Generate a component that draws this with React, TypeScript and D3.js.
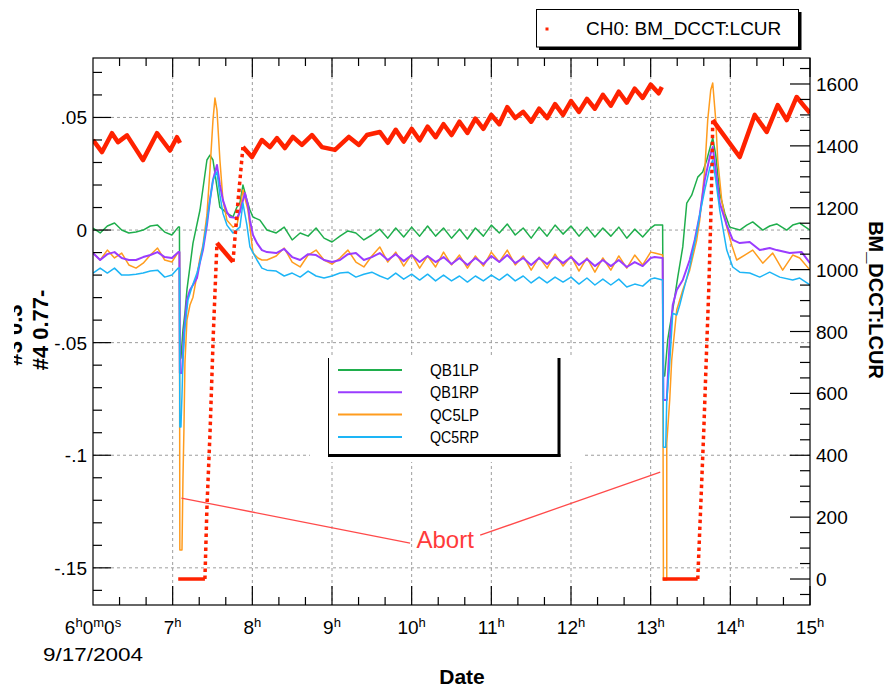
import React from 'react';
import * as d3 from 'd3';

const W = 895;
const H = 689;
const PL = 93, PR = 810, PT = 58, PB = 605;

// ---------- axes / labels ----------
const hourTicks = [7, 8, 9, 10, 11, 12, 13, 14, 15];
const leftTicks = [0.05, 0, -0.05, -0.1, -0.15];
const leftTickLabels = ['.05', '0', '-.05', '-.1', '-.15'];
const rightTicks = [0, 200, 400, 600, 800, 1000, 1200, 1400, 1600];
const seriesNames = ['QB1LP', 'QB1RP', 'QC5LP', 'QC5RP'];
const seriesColors = ['#1fae4c', '#9a3cff', '#ff9c1e', '#1db5f6'];
const redColor = '#ff2200';
const redName = 'CH0: BM_DCCT:LCUR';
const dateLabel = '9/17/2004';

// ---------- magnet series (left axis) ----------
const baseTimesA = [6.0, 6.09, 6.18, 6.27, 6.36, 6.45, 6.54, 6.63, 6.72, 6.81, 6.9, 6.99, 7.07];
const greenA = [0.0009, -0.0013, 0.0018, 0.0031, 0, -0.0013, -0.0009, 0, 0.0018, 0.0022, -0.0009, -0.0022, 0.0013];
const purpleA = [-0.0102, -0.0133, -0.0107, -0.0098, -0.0124, -0.0133, -0.0133, -0.012, -0.0111, -0.0098, -0.012, -0.0124, -0.0098];
const orangeA = [-0.0102, -0.0133, -0.0089, -0.0124, -0.0102, -0.0155, -0.0169, -0.0147, -0.0111, -0.008, -0.0133, -0.0142, -0.0098];
const cyanA = [-0.0191, -0.0169, -0.0191, -0.0169, -0.02, -0.02, -0.0196, -0.0191, -0.0182, -0.0178, -0.0209, -0.02, -0.0169];

const greenT1: [number, number][] = [
  [7.085, 0.0013], [7.09, -0.0577], [7.104, -0.0568], [7.129, -0.0444], [7.154, -0.0369], [7.179, -0.0266],
  [7.255, -0.0058], [7.343, 0.0089], [7.43, 0.0311], [7.468, 0.0333], [7.506, 0.0311], [7.556, 0.0191],
  [7.593, 0.0102], [7.681, 0.0075], [7.757, 0.0058], [7.807, 0.0102], [7.844, 0.012], [7.882, 0.02],
  [7.932, 0.0133], [7.97, 0.0089], [8.008, 0.0058], [8.095, 0.0044], [8.183, 0]];
const purpleT1: [number, number][] = [
  [7.085, -0.0098], [7.09, -0.0635], [7.117, -0.0635], [7.142, -0.0457], [7.179, -0.0311], [7.217, -0.0266],
  [7.255, -0.0244], [7.305, -0.0213], [7.343, -0.0142], [7.38, -0.0089], [7.43, 0.0022], [7.468, 0.0133],
  [7.506, 0.0222], [7.556, 0.0289], [7.593, 0.02], [7.631, 0.0133], [7.681, 0.008], [7.719, 0.0058],
  [7.807, 0.0053], [7.844, 0.008], [7.907, 0.0164], [7.945, 0.0111], [7.97, 0.0044], [8.008, -0.0022],
  [8.058, -0.0058], [8.12, -0.0089], [8.183, -0.0098]];
const orangeT1: [number, number][] = [
  [7.085, -0.0098], [7.09, -0.1421], [7.117, -0.1421], [7.129, -0.111], [7.142, -0.0875], [7.154, -0.0591],
  [7.179, -0.04], [7.217, -0.0333], [7.255, -0.0298], [7.305, -0.02], [7.343, -0.0124], [7.38, -0.0067],
  [7.43, 0.0067], [7.468, 0.0266], [7.506, 0.0488], [7.531, 0.0586], [7.556, 0.0533], [7.593, 0.0311],
  [7.631, 0.0133], [7.681, 0.0044], [7.757, 0.0013], [7.807, 0.0022], [7.844, 0.0089], [7.882, 0.0178],
  [7.945, 0.0089], [8.008, -0.0102], [8.07, -0.0124], [8.12, -0.0133], [8.183, -0.0133]];
const cyanT1: [number, number][] = [
  [7.085, -0.0169], [7.09, -0.0875], [7.104, -0.0875], [7.117, -0.0733], [7.129, -0.0577], [7.154, -0.0431],
  [7.192, -0.0311], [7.242, -0.0253], [7.305, -0.0191], [7.343, -0.0142], [7.38, -0.0075], [7.43, 0.0036],
  [7.468, 0.0133], [7.506, 0.0222], [7.556, 0.0258], [7.593, 0.0155], [7.631, 0.0075], [7.681, 0.0022],
  [7.757, -0.0013], [7.844, 0.0013], [7.882, 0.012], [7.932, 0.0022], [7.97, -0.0075], [8.058, -0.0133],
  [8.12, -0.0169], [8.183, -0.0178]];

const baseTimesB = [8.3, 8.4, 8.5, 8.6, 8.7, 8.8, 8.9, 9.0, 9.1, 9.2, 9.3, 9.4, 9.5, 9.6, 9.7, 9.8, 9.9, 10.0,
  10.1, 10.2, 10.3, 10.4, 10.5, 10.6, 10.7, 10.8, 10.9, 11.0, 11.1, 11.2, 11.3, 11.4, 11.5, 11.6, 11.7, 11.8,
  11.9, 12.0, 12.1, 12.2, 12.3, 12.4, 12.5, 12.6, 12.7, 12.8, 12.9, 13.0, 13.05, 13.15];
const greenB = [-0.0013, 0.0013, -0.0044, -0.0013, -0.0027, 0.0009, -0.0036, -0.0053, -0.0027, -0.0004,
  -0.0013, -0.0044, -0.0022, 0.0004, -0.0036, 0.0009, -0.0031, 0.0013, -0.0027, 0.0018,
  -0.0027, 0.0009, -0.0036, 0.0004, -0.004, 0.0009, -0.0027, 0.0022, -0.0013, 0.0027,
  -0.0022, 0.0009, -0.0036, 0.0013, -0.0027, 0.0022, -0.0018, 0.0018, -0.0027, 0.0013,
  -0.0031, 0.0009, -0.0027, 0.0013, -0.0036, 0.0004, -0.0031, 0.0009, 0.0022, 0.0022];
const purpleB = [-0.0102, -0.0084, -0.012, -0.0133, -0.0107, -0.0111, -0.0133, -0.0142, -0.0133, -0.0107,
  -0.0102, -0.0133, -0.012, -0.0102, -0.0133, -0.0107, -0.0138, -0.0111, -0.0142, -0.0115,
  -0.0142, -0.012, -0.0151, -0.0124, -0.0155, -0.0124, -0.0151, -0.0115, -0.0142, -0.0111,
  -0.0147, -0.0124, -0.0155, -0.0124, -0.0151, -0.012, -0.0147, -0.012, -0.0155, -0.0129,
  -0.016, -0.0133, -0.016, -0.0133, -0.0164, -0.0142, -0.016, -0.0124, -0.012, -0.0124];
const orangeB = [-0.0115, -0.008, -0.0142, -0.0164, -0.0111, -0.0089, -0.0133, -0.0151, -0.0124, -0.0089,
  -0.0142, -0.0164, -0.0115, -0.0075, -0.0142, -0.0098, -0.016, -0.0107, -0.0169, -0.0115,
  -0.0164, -0.0098, -0.0155, -0.0111, -0.0169, -0.0115, -0.016, -0.0098, -0.0142, -0.0089,
  -0.0155, -0.0115, -0.0178, -0.012, -0.0169, -0.0107, -0.016, -0.0115, -0.0182, -0.0124,
  -0.0187, -0.0124, -0.0178, -0.0115, -0.0169, -0.0111, -0.0155, -0.0098, -0.0102, -0.0111];
const cyanB = [-0.0182, -0.0204, -0.0191, -0.0209, -0.0182, -0.0204, -0.0213, -0.0204, -0.0191, -0.0187,
  -0.0209, -0.0196, -0.0187, -0.0204, -0.0218, -0.0191, -0.0218, -0.0196, -0.0222, -0.0196,
  -0.0226, -0.02, -0.0226, -0.0204, -0.0231, -0.0204, -0.0226, -0.02, -0.0222, -0.0196,
  -0.0226, -0.0204, -0.0235, -0.0209, -0.0235, -0.0209, -0.0231, -0.0209, -0.024, -0.0213,
  -0.0244, -0.0218, -0.0244, -0.0218, -0.0253, -0.024, -0.0249, -0.0218, -0.0213, -0.0222];

const greenT2: [number, number][] = [
  [13.16, -0.0648], [13.176, -0.0648], [13.214, -0.0488], [13.239, -0.0431], [13.277, -0.0355],
  [13.34, -0.0209], [13.403, -0.0075], [13.453, 0.012], [13.515, 0.0155], [13.591, 0.0235],
  [13.653, 0.0258], [13.704, 0.0311], [13.754, 0.0377], [13.779, 0.0409], [13.817, 0.0333],
  [13.867, 0.0164], [13.93, 0.0075], [13.992, 0.0013], [14.118, 0]];
const purpleT2: [number, number][] = [
  [13.16, -0.0755], [13.202, -0.0755], [13.239, -0.0488], [13.277, -0.0333], [13.327, -0.0266],
  [13.403, -0.0222], [13.49, -0.0133], [13.553, -0.0044], [13.616, 0.0067], [13.679, 0.0222],
  [13.741, 0.0324], [13.779, 0.0369], [13.817, 0.0266], [13.867, 0.012], [13.955, 0.0022],
  [14.03, -0.0044], [14.118, -0.0058]];
const orangeT2: [number, number][] = [
  [13.16, -0.1554], [13.202, -0.1554], [13.202, -0.0946], [13.239, -0.0755], [13.264, -0.0577],
  [13.302, -0.0444], [13.327, -0.0355], [13.403, -0.0266], [13.49, -0.0178], [13.578, -0.0044],
  [13.616, 0.0044], [13.679, 0.0266], [13.716, 0.0488], [13.754, 0.0622], [13.779, 0.0653],
  [13.817, 0.0488], [13.842, 0.0311], [13.892, 0.0133], [13.955, 0.0013], [14.018, -0.0067],
  [14.08, -0.0133], [14.181, -0.0111]];
const cyanT2: [number, number][] = [
  [13.16, -0.0964], [13.189, -0.0964], [13.202, -0.0755], [13.239, -0.0591], [13.277, -0.0369],
  [13.327, -0.0377], [13.365, -0.0333], [13.403, -0.028], [13.49, -0.0164], [13.578, -0.0013],
  [13.616, 0.0067], [13.679, 0.0178], [13.741, 0.0275], [13.779, 0.0311], [13.817, 0.0222],
  [13.867, 0.0089], [13.955, -0.0089], [14.03, -0.0164], [14.118, -0.0187]];

const greenC: [number, number][] = [[14.206, 0.0022], [14.281, 0.0036], [14.407, 0], [14.494, 0.0018],
  [14.582, 0.0027], [14.708, 0], [14.783, 0.0022], [14.871, 0.0031], [15.0, 0]];
const purpleC: [number, number][] = [[14.243, -0.0053], [14.369, -0.0089], [14.494, -0.008], [14.582, -0.0089],
  [14.745, -0.0102], [14.896, -0.0098], [15.0, -0.0147]];
const orangeC: [number, number][] = [[14.281, -0.0089], [14.407, -0.0147], [14.532, -0.0102], [14.657, -0.0178],
  [14.783, -0.0111], [14.871, -0.0124], [15.0, -0.0178]];
const cyanC: [number, number][] = [[14.243, -0.0191], [14.369, -0.0209], [14.494, -0.0187], [14.62, -0.0209],
  [14.783, -0.0222], [14.871, -0.0213], [15.0, -0.0244]];

// ---------- beam current (right axis) ----------
const redA: [number, number][] = [[6.0, 1419], [6.113, 1380], [6.238, 1441], [6.314, 1412], [6.427, 1434],
  [6.627, 1354], [6.803, 1441], [6.966, 1385], [7.054, 1428], [7.092, 1409]];
const redZero1: [number, number][] = [[7.07, 0], [7.405, 0]];
const redRamp1: [number, number][] = [[7.405, 0], [7.43, 230], [7.47, 480], [7.51, 790], [7.556, 1086]];
const redDecay1: [number, number][] = [[7.556, 1086], [7.757, 1025]];
const redRamp2: [number, number][] = [[7.757, 1025], [7.82, 1220], [7.882, 1396]];
const redBTimes = [7.882, 7.995, 8.12, 8.221, 8.309, 8.409, 8.509, 8.622, 8.748, 8.874, 9.037, 9.212, 9.338,
  9.438, 9.6, 9.7, 9.8, 9.9, 10.0, 10.1, 10.2, 10.3, 10.4, 10.5, 10.6, 10.7, 10.8, 10.9, 11.0, 11.1, 11.2,
  11.3, 11.4, 11.5, 11.6, 11.7, 11.8, 11.9, 12.0, 12.1, 12.2, 12.3, 12.4, 12.5, 12.6, 12.7, 12.8, 12.9,
  13.0, 13.1, 13.14];
const redBValues = [1396, 1364, 1419, 1396, 1425, 1393, 1429, 1403, 1435, 1396, 1387, 1429, 1403,
  1435, 1445, 1410, 1452, 1414, 1455, 1418, 1462, 1428, 1470, 1435, 1478, 1442, 1488, 1455, 1500, 1470, 1525,
  1490, 1510, 1478, 1520, 1490, 1535, 1500, 1545, 1510, 1552, 1520, 1565, 1530, 1575, 1540, 1585, 1555,
  1598, 1570, 1590];
const redZero2: [number, number][] = [[13.15, 0], [13.59, 0]];
const redRamp3: [number, number][] = [[13.591, 0], [13.629, 239], [13.667, 482], [13.704, 756], [13.729, 934],
  [13.754, 1160], [13.772, 1354], [13.779, 1483]];
const redC: [number, number][] = [[13.779, 1483], [14.118, 1364], [14.306, 1500], [14.457, 1445], [14.595, 1532],
  [14.708, 1483], [14.833, 1558], [14.934, 1526], [15.0, 1506]];

// ---------- annotation (data coordinates, left axis) ----------
const abortText = 'Abort';
const abortLabelPos: [number, number] = [10.42, -0.1412];
const abortLeft: [[number, number], [number, number]] = [[7.11, -0.119], [9.98, -0.139]];
const abortRight: [[number, number], [number, number]] = [[10.86, -0.1355], [13.12, -0.1075]];

const zip = (ts: number[], vs: number[]): [number, number][] => ts.map((t, i) => [t, vs[i]]);

const FONT = '"Liberation Sans", Arial, Helvetica, sans-serif';

export default function App() {
  const x = d3.scaleLinear().domain([6, 15]).range([PL, PR]);
  const yL = d3.scaleLinear().domain([-0.1665, 0.0764]).range([PB, PT]);
  const yR = d3.scaleLinear().domain([-84, 1684]).range([PB, PT]);

  const lineL = d3.line<[number, number]>().x(d => x(d[0])).y(d => yL(d[1]));
  const lineR = d3.line<[number, number]>().x(d => x(d[0])).y(d => yR(d[1]));

  const series: [number, number][][] = [
    [...zip(baseTimesA, greenA), ...greenT1, ...zip(baseTimesB, greenB), ...greenT2, ...greenC],
    [...zip(baseTimesA, purpleA), ...purpleT1, ...zip(baseTimesB, purpleB), ...purpleT2, ...purpleC],
    [...zip(baseTimesA, orangeA), ...orangeT1, ...zip(baseTimesB, orangeB), ...orangeT2, ...orangeC],
    [...zip(baseTimesA, cyanA), ...cyanT1, ...zip(baseTimesB, cyanB), ...cyanT2, ...cyanC],
  ];
  const drawOrder = [0, 2, 1, 3];
  const widths = [1.5, 2, 1.5, 1.5];

  const redSolid = [redA, redDecay1, zip(redBTimes, redBValues), redC];
  const redZeros = [redZero1, redZero2];
  const redDots = [redRamp1, redRamp2, redRamp3];

  const minorX = d3.range(6, 15.001, 1 / 3).filter(v => Math.abs(v - Math.round(v)) > 0.01);
  const minorL = d3.range(-0.16, 0.0761, 0.01).filter(v => Math.abs(v / 0.05 - Math.round(v / 0.05)) > 0.01);
  const minorR = d3.range(-50, 1684, 50).filter(v => v % 200 !== 0);

  const grid = '#9d9d9d';

  return (
    <svg width={W} height={H} style={{ position: 'absolute', left: 0, top: 0, background: '#fff' }}
      fontFamily={FONT}>
      <defs>
        <clipPath id="plotClip"><rect x={PL} y={PT} width={PR - PL} height={PB - PT} /></clipPath>
        <clipPath id="titleClip"><rect x={14} y={0} width={120} height={H} /></clipPath>
      </defs>
      <rect x={0} y={0} width={W} height={H} fill="#fff" />

      {/* grid */}
      <g stroke={grid} strokeWidth={1} strokeDasharray="3,3">
        {hourTicks.filter(h => h < 15).map(h => (
          <line key={'gx' + h} x1={x(h)} x2={x(h)} y1={PT} y2={PB} />
        ))}
        {leftTicks.map(v => (
          <line key={'gy' + v} x1={PL} x2={PR} y1={yL(v)} y2={yL(v)} />
        ))}
      </g>

      {/* legend background (white area) */}
      <rect x={310} y={357} width={272} height={105} fill="#fff" />

      {/* data */}
      <g clipPath="url(#plotClip)" fill="none" strokeLinejoin="round">
        {drawOrder.map(i => (
          <path key={'s' + i} d={lineL(series[i]) || ''} stroke={seriesColors[i]} strokeWidth={widths[i]} />
        ))}
        {redSolid.map((s, i) => (
          <path key={'rs' + i} d={lineR(s) || ''} stroke={redColor} strokeWidth={4.5} />
        ))}
        {redZeros.map((s, i) => (
          <path key={'rz' + i} d={lineR(s) || ''} stroke={redColor} strokeWidth={3.5} />
        ))}
        {redDots.map((s, i) => (
          <path key={'rd' + i} d={lineR(s) || ''} stroke={redColor} strokeWidth={3.5}
            strokeDasharray="3.5,3.5" />
        ))}
      </g>

      {/* abort annotation */}
      <g stroke="#ff4a4a" strokeWidth={1.3}>
        <line x1={x(abortLeft[0][0])} y1={yL(abortLeft[0][1])} x2={x(abortLeft[1][0])} y2={yL(abortLeft[1][1])} />
        <line x1={x(abortRight[0][0])} y1={yL(abortRight[0][1])} x2={x(abortRight[1][0])} y2={yL(abortRight[1][1])} />
      </g>
      <text x={x(abortLabelPos[0])} y={yL(abortLabelPos[1])} textAnchor="middle" fontSize={24}
        fill="#ff3b3b">{abortText}</text>

      {/* legend box */}
      <g>
        <line x1={328.5} x2={328.5} y1={358} y2={456} stroke="#000" strokeWidth={1} />
        <line x1={559} x2={559} y1={358} y2={457} stroke="#000" strokeWidth={3} />
        <line x1={328} x2={560.5} y1={455.5} y2={455.5} stroke="#000" strokeWidth={3} />
        {seriesNames.map((n, i) => (
          <g key={'lg' + n}>
            <line x1={338} x2={402} y1={370 + i * 22.3} y2={370 + i * 22.3} stroke={seriesColors[i]} strokeWidth={2} />
            <text x={430} y={370 + i * 22.3 + 6} fontSize={17} textLength={49} lengthAdjust="spacingAndGlyphs"
              fill="#000">{n}</text>
          </g>
        ))}
      </g>

      {/* frame */}
      <rect x={PL} y={PT} width={PR - PL} height={PB - PT} fill="none" stroke="#000" strokeWidth={1.2} />

      {/* x ticks top & bottom */}
      <g stroke="#000" strokeWidth={1.2}>
        {hourTicks.map(h => (
          <g key={'xt' + h}>
            <line x1={x(h)} x2={x(h)} y1={PB} y2={PB - 19} />
            <line x1={x(h)} x2={x(h)} y1={PT} y2={PT + 19} />
          </g>
        ))}
        {minorX.map(h => (
          <g key={'xm' + h}>
            <line x1={x(h)} x2={x(h)} y1={PB} y2={PB - 8} />
            <line x1={x(h)} x2={x(h)} y1={PT} y2={PT + 8} />
          </g>
        ))}
        {leftTicks.map(v => (
          <line key={'lt' + v} x1={PL} x2={PL + 18} y1={yL(v)} y2={yL(v)} />
        ))}
        {minorL.map(v => (
          <line key={'lm' + v} x1={PL} x2={PL + 9} y1={yL(v)} y2={yL(v)} />
        ))}
        {rightTicks.map(v => (
          <line key={'rt' + v} x1={PR} x2={PR - 20} y1={yR(v)} y2={yR(v)} />
        ))}
        {minorR.map(v => (
          <line key={'rm' + v} x1={PR} x2={PR - 10} y1={yR(v)} y2={yR(v)} />
        ))}
      </g>

      {/* tick labels */}
      <g fontSize={19} fill="#000">
        {leftTicks.map((v, i) => (
          <text key={'ll' + v} x={87} y={yL(v) + 7} textAnchor="end">{leftTickLabels[i]}</text>
        ))}
        {rightTicks.map(v => (
          <text key={'rl' + v} x={816} y={yR(v) + 7}>{v}</text>
        ))}
        {hourTicks.map(h => (
          <text key={'xl' + h} x={x(h)} y={634} textAnchor="middle">
            {h}<tspan dy={-7} fontSize={13}>h</tspan>
          </text>
        ))}
        <text x={x(6)} y={634} textAnchor="middle">
          6<tspan dy={-7} fontSize={13}>h</tspan><tspan dy={7}>0</tspan><tspan dy={-7} fontSize={13}>m</tspan>
          <tspan dy={7}>0</tspan><tspan dy={-7} fontSize={13}>s</tspan>
        </text>
        <text x={x(6)} y={661} textAnchor="middle" textLength={100} lengthAdjust="spacingAndGlyphs">{dateLabel}</text>
      </g>

      {/* axis titles */}
      <text x={462} y={684} textAnchor="middle" fontSize={21} fontWeight="bold">Date</text>
      <text transform="translate(869,300) rotate(90)" textAnchor="middle" fontSize={20} fontWeight="bold">
        BM_DCCT:LCUR
      </text>
      <g clipPath="url(#titleClip)">
        <text transform="translate(22,335) rotate(-90)" textAnchor="middle" fontSize={22} fontWeight="bold">#3 0.3</text>
      </g>
      <text transform="translate(48,330) rotate(-90)" textAnchor="middle" fontSize={22} fontWeight="bold">#4 0.77-</text>

      {/* top right legend */}
      <g>
        <rect x={536.5} y={9.5} width={262} height={37.5} fill="#fff" stroke="#000" strokeWidth={1} />
        <path d="M800 12 V48.5 H539" fill="none" stroke="#000" strokeWidth={3} />
        <rect x={545.5} y={27.5} width={3} height={3} fill={redColor} />
        <text x={586} y={34.5} fontSize={19} fill="#000">{redName}</text>
      </g>
    </svg>
  );
}
